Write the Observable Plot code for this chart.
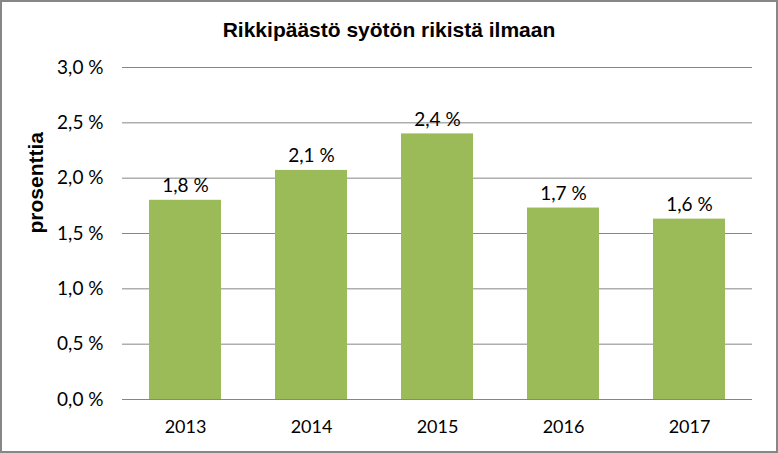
<!DOCTYPE html>
<html>
<head>
<meta charset="utf-8">
<script src="https://cdn.jsdelivr.net/npm/d3@7"></script>
<script src="https://cdn.jsdelivr.net/npm/@observablehq/plot@0.6"></script>
<style>
  html, body { margin: 0; padding: 0; background: #fff; }
  #wrap { width: 778px; height: 453px; box-sizing: border-box; border: 2px solid #878787; background: #fff; position: relative; overflow: hidden; }
  #title { height: 48px; line-height: 56px; text-align: center; font-family: "Liberation Sans", Arial, sans-serif; font-weight: bold; font-size: 21px; color: #000; }
  svg { display: block; }
</style>
</head>
<body>
<div id="wrap">
  <div id="title">Rikkipäästö syötön rikistä ilmaan</div>
  <div id="chart"></div>
</div>
<script>
const years = ["2013", "2014", "2015", "2016", "2017"];
const values = [1.8, 2.07, 2.4, 1.73, 1.63];
const yTicks = [0, 0.5, 1.0, 1.5, 2.0, 2.5, 3.0];
const yLabel = "prosenttia";

const data = years.map((y, i) => ({year: y, value: values[i]}));
const fmt = d => d.toFixed(1).replace(".", ",") + "\u00a0%";

const chart = Plot.plot({
  width: 774,
  height: 401,
  marginTop: 17,
  marginBottom: 52,
  marginLeft: 120,
  marginRight: 24,
  style: {fontFamily: "Lato, 'Open Sans', sans-serif", fontSize: "18px", color: "#000", background: "#fff"},
  x: {domain: years, paddingInner: 0.43, paddingOuter: 0.215, label: null},
  y: {domain: [0, 3], label: null},
  marks: [
    Plot.gridY(yTicks, {stroke: "#868686", strokeOpacity: 1, strokeWidth: 1}),
    Plot.barY(data, {x: "year", y: "value", fill: "#9BBB59"}),
    Plot.ruleY([0], {stroke: "#868686", strokeWidth: 1}),
    Plot.ruleX([0], {frameAnchor: "left", stroke: "#868686"}),
    Plot.axisY({ticks: yTicks, tickFormat: fmt, tickSize: 0, tickPadding: 19, label: null, fontSize: 19}),
    Plot.axisX({tickSize: 0, tickPadding: 21, label: null, fontSize: 18}),
    Plot.text(data, {x: "year", y: "value", text: d => fmt(d.value), lineAnchor: "bottom", dy: -8, fontSize: 19, fill: "#000"}),
    Plot.text([yLabel], {frameAnchor: "left", rotate: -90, dx: -86, text: d => d, fontFamily: "'Liberation Sans', Arial, sans-serif", fontWeight: "bold", fontSize: 21, fill: "#000"})
  ]
});
document.getElementById("chart").appendChild(chart);
</script>
</body>
</html>
